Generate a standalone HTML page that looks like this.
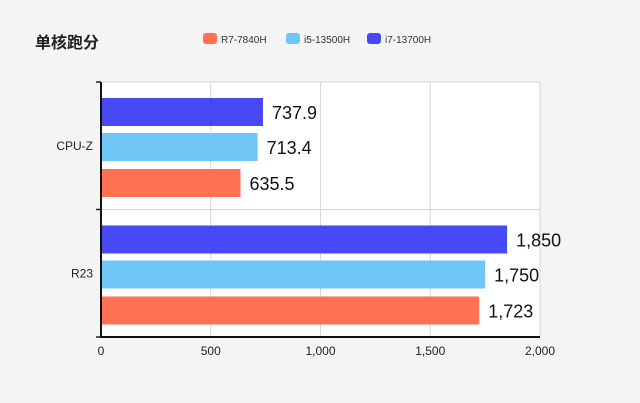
<!DOCTYPE html>
<html><head><meta charset="utf-8"><style>
body{margin:0;background:#f4f4f4;}
svg{display:block;font-family:"Liberation Sans","Noto Sans CJK SC",sans-serif;}
</style></head><body>
<svg id="c" width="640" height="403">
<rect width="640" height="403" fill="#f4f4f4"/>
<text x="35" y="48" font-size="16" font-weight="bold" fill="#222">单核跑分</text>
</svg>
<script>
const categories=["CPU-Z","R23"];
const seriesNames=["i7-13700H","i5-13500H","R7-7840H"];
const legendOrder=["R7-7840H","i5-13500H","i7-13700H"];
const i7Values=[737.9,1850];
const i5Values=[713.4,1750];
const r7Values=[635.5,1723];
const valueLabels=[["737.9","713.4","635.5"],["1,850","1,750","1,723"]];
const ticks=[0,500,1000,1500,2000];
const tickLabels=["0","500","1,000","1,500","2,000"];
const colors={"R7-7840H":"#ff7150","i5-13500H":"#6ec6f4","i7-13700H":"#4649f5"};
const svg=document.getElementById('c');const NS='http://www.w3.org/2000/svg';
function mk(t,a,txt){const e=document.createElementNS(NS,t);for(const k in a)e.setAttribute(k,a[k]);if(txt!=null)e.textContent=txt;svg.appendChild(e);return e;}
const X0=101,X1=540,Y0=82,Y1=337;
const x=v=>X0+(v-0)/(2000)*(X1-X0);
const bandH=(Y1-Y0)/categories.length;
let e=mk('rect',{x:X0,y:Y0,width:X1-X0,height:Y1-Y0,fill:'#fff'});


ticks.forEach((t,i)=>{
 if(i>0){let g=mk('line',{x1:x(t),x2:x(t),y1:Y0,y2:Y1,stroke:'#d6d6d6','stroke-width':1});
 
 }
 let l=mk('text',{x:x(t),y:Y1+18,'font-size':12,'text-anchor':'middle',fill:'#222'},tickLabels[i]);
 
 
});
let hl=mk('line',{x1:X0,x2:X1,y1:Y0,y2:Y0,stroke:'#d6d6d6'});


let md=mk('line',{x1:X0,x2:X1,y1:Y0+bandH,y2:Y0+bandH,stroke:'#d6d6d6'});


const series=[i7Values,i5Values,r7Values];
const barH=28,offs=[16,51,87];
categories.forEach((c,ci)=>{
 const by=Y0+ci*bandH;
 series.forEach((vals,si)=>{
  const v=vals[ci];
  let r=mk('rect',{x:X0,y:by+offs[si],width:x(v)-X0,height:barH,fill:colors[seriesNames[si]]});
  
  
  let t=mk('text',{x:x(v)+9,y:by+offs[si]+21,'font-size':18,fill:'#111'},valueLabels[ci][si]);
  
  
 });
 let cl=mk('text',{x:X0-8,y:by+bandH/2+4,'font-size':12,'text-anchor':'end',fill:'#222'},c);
 
 
});
[Y0,Y0+bandH,Y1].forEach(yy=>{let t=mk('line',{x1:X0-5,x2:X0,y1:yy,y2:yy,stroke:'#222','stroke-width':1.5});

});
let ya=mk('line',{x1:X0,x2:X0,y1:Y0,y2:Y1+1,stroke:'#111','stroke-width':2});


let xa=mk('line',{x1:X0,x2:X1,y1:Y1,y2:Y1,stroke:'#111','stroke-width':2});


const legX=[203,286,367];
legendOrder.forEach((n,i)=>{
 let s=mk('rect',{x:legX[i],y:33,width:14,height:11,rx:3,fill:colors[n]});
 
 
 let t=mk('text',{x:legX[i]+18,y:43,'font-size':10,fill:'#333'},n);
 
 
});
</script>
</body></html>
